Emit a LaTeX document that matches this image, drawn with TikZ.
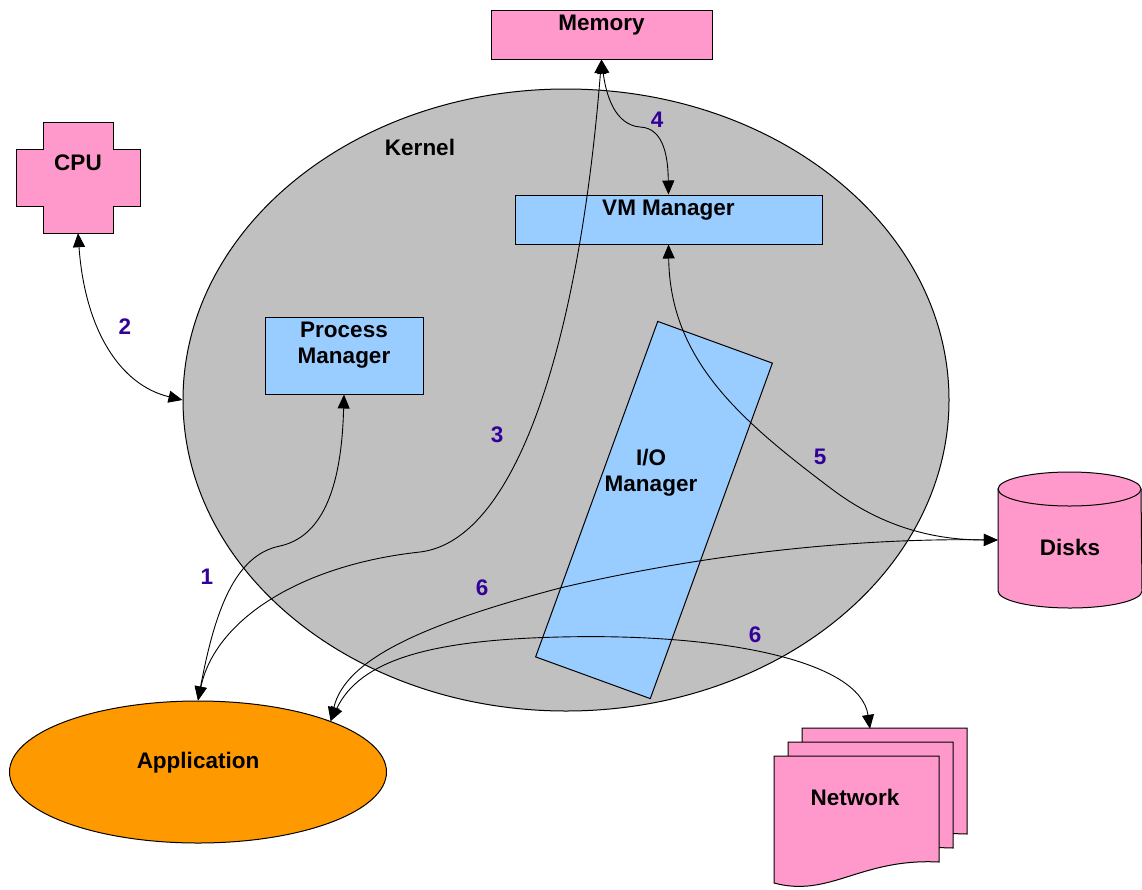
\documentclass[tikz,border=0pt]{standalone}
\usepackage{fontspec}
\setmainfont{Liberation Sans}
\usepackage{tikz}
\usetikzlibrary{shapes.geometric,arrows.meta}
\definecolor{kernelgray}{HTML}{C0C0C0}
\definecolor{mgrblue}{HTML}{99CCFF}
\definecolor{devpink}{HTML}{FF99CC}
\definecolor{apporange}{HTML}{FF9900}
\definecolor{stepviolet}{HTML}{330099}

\begin{document}
\begin{tikzpicture}[
    x=1pt, y=-1pt,
    txt/.style={font=\fontsize{22.5}{26}\selectfont\bfseries, text=black, align=center, inner sep=0pt},
    num/.style={font=\fontsize{22.5}{26}\selectfont\bfseries, text=stepviolet, inner sep=0pt},
    mgrbox/.style={rectangle, draw=black, fill=mgrblue, line width=1pt, inner sep=0pt},
    devbox/.style={draw=black, fill=devpink, line width=1pt, inner sep=0pt},
    arr/.style={{Triangle[length=14pt,width=12pt]}-{Triangle[length=14pt,width=12pt]}, line width=0.9pt, draw=black}
]
    \useasboundingbox (0,0) rectangle (1142,889);

    % Kernel
    \node (kernel) [ellipse, draw=black, fill=kernelgray, line width=1pt, minimum width=766pt, minimum height=622pt, inner sep=0pt] at (566,400) {};
    \node (kernellbl) [txt] at (420,147) {Kernel};

    % Managers
    \node (pm) [mgrbox, minimum width=158pt, minimum height=77pt, label={[txt, yshift=10.5pt]center:{Process\\Manager}}] at (344,355.5) {};
    \node (vm) [mgrbox, minimum width=307pt, minimum height=49pt, label={[txt, yshift=9.5pt]center:VM Manager}] at (668.5,219.5) {};
    \node (io) [mgrbox, rotate=-20, minimum width=122pt, minimum height=357pt] at (654,510) {};
    \node (iolbl) [txt] at (651,473) {I/O\\Manager};

    % Devices
    \node (mem) [rectangle, devbox, minimum width=221pt, minimum height=49pt, label={[txt, yshift=9.5pt]center:Memory}] at (601.5,34.5) {};

    \draw[devbox] (43,122) -| (113,149) -| (140,206) -| (113,233) -| (43,206) -| (16,149) -| (43,122) -- cycle;
    \node (cpu) [minimum width=124pt, minimum height=111pt, inner sep=0pt, label={[txt, yshift=14.5pt]center:CPU}] at (78,177.5) {};

    \draw[devbox] (998,489) -- (998,591) arc[start angle=180, end angle=0, x radius=72, y radius=17] -- (1141,489) -- cycle;
    \draw[devbox] (1069.5,489) ellipse [x radius=71.5, y radius=17];
    \node (disks) [minimum width=144pt, minimum height=136pt, inner sep=0pt, label={[txt, yshift=-7pt]center:Disks}] at (1070,540) {};

    \foreach \s in {28,14,0}
        \draw[devbox, shift={(\s,-\s)}] (774,756) -- (939,756) -- (939,862) .. controls (860,858) and (830,898) .. (774,883) -- cycle;
    \node (net) [minimum width=192pt, minimum height=158pt, inner sep=0pt, label={[txt, xshift=-15pt, yshift=11pt]center:Network}] at (870,808) {};

    \node (app) [ellipse, draw=black, fill=apporange, line width=1pt, minimum width=377pt, minimum height=142pt, inner sep=0pt, label={[txt, yshift=9pt]center:Application}] at (198,772) {};

    % Flows
    \draw[arr] (cpu.south) .. controls (85,330) and (120,385) .. (kernel.west);
    \draw[arr] (app.north) .. controls (215,610) and (235,555) .. (280,546) .. controls (330,535) and (342,470) .. (pm.south);
    \draw[arr] (app.north) .. controls (215,620) and (300,565) .. (420,552) .. controls (520,540) and (580,330) .. (mem.south);
    \draw[arr] (mem.south) .. controls (606,95) and (615,125) .. (640,127) .. controls (665,128) and (668,160) .. (vm.north);
    \draw[arr] (vm.south) .. controls (670,360) and (740,420) .. (833,490) .. controls (880,525) and (930,540) .. (disks.west);
    \draw[arr] (app.21.5) .. controls (345,660) and (420,625) .. (560,588) .. controls (700,555) and (850,538) .. (disks.west);
    \draw[arr] (app.21.5) .. controls (360,660) and (430,640) .. (560,637) .. controls (720,633) and (860,660) .. (net.north);

    % Steps
    \node (n1) [num] at (207,577) {1};
    \node (n2) [num] at (125,327) {2};
    \node (n3) [num] at (497,435) {3};
    \node (n4) [num] at (657,120) {4};
    \node (n5) [num] at (820,457) {5};
    \node (n6a) [num] at (482,588) {6};
    \node (n6b) [num] at (755,635) {6};
\end{tikzpicture}
\end{document}
